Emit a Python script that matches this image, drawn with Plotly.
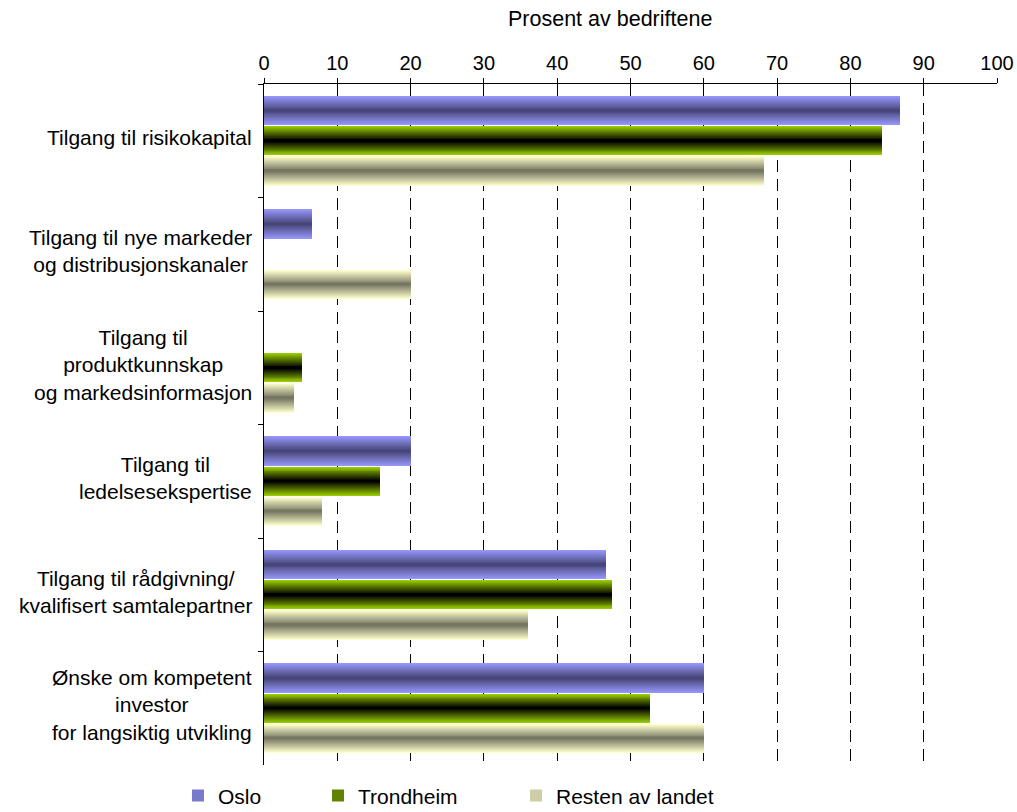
import plotly.graph_objects as go

# Categories (top to bottom) and the share of firms (%) per region
categories = [
    "Tilgang til risikokapital",
    "Tilgang til nye markeder<br>og distribusjonskanaler",
    "Tilgang til<br>produktkunnskap<br>og markedsinformasjon",
    "Tilgang til<br>ledelseseksportise".replace("eksportise", "ekspertise"),
    "Tilgang til rådgivning/<br>kvalifisert samtalepartner",
    "Ønske om kompetent<br>investor<br>for langsiktig utvikling",
]
series_names = ["Oslo", "Trondheim", "Resten av landet"]
oslo = [86.8, 6.5, 0, 20.0, 46.7, 60.0]
trondheim = [84.3, 0, 5.2, 15.8, 47.5, 52.7]
resten = [68.2, 20.0, 4.1, 7.9, 36.0, 60.0]
x_ticks = list(range(0, 101, 10))

# Edge and centre colours of each bar's shaded fill
edge_colors = [(150, 150, 250), (153, 204, 0), (255, 255, 204)]
center_colors = [(70, 70, 120), (0, 0, 0), (118, 118, 98)]

FONT = "Liberation Sans, Arial, sans-serif"
N_LAYERS = 15
LEGEND_LAYER = 5
BAR_PITCH = 0.266
BAR_WIDTH = 0.258


def mix(a, b, t):
    return "rgb({},{},{})".format(*[round(a[i] + (b[i] - a[i]) * t) for i in range(3)])


fig = go.Figure()
values = [oslo, trondheim, resten]
for j, (name, vals) in enumerate(zip(series_names, values)):
    center = (j - 1) * BAR_PITCH
    for k in range(N_LAYERS):
        w = BAR_WIDTH * (N_LAYERS - k) / N_LAYERS
        t = k / (N_LAYERS - 1)
        fig.add_trace(go.Bar(
            x=vals, y=categories, orientation="h",
            width=w, offset=center - w / 2,
            marker=dict(color=mix(edge_colors[j], center_colors[j], t), line=dict(width=0)),
            name=name, legendgroup=name,
            showlegend=(k == LEGEND_LAYER),
            legend="legend" if j == 0 else f"legend{j + 1}",
            hoverinfo="x+name",
        ))

# Category labels, centred lines right-aligned against the axis
for cat in categories:
    fig.add_annotation(
        x=0, xref="paper", xanchor="right", xshift=-10,
        y=cat, yref="y", yanchor="middle", yshift=3,
        text=cat, align="center", showarrow=False,
        font=dict(family=FONT, size=21, color="black"),
    )

fig.add_annotation(
    x=0.472, xref="paper", xanchor="center", text="Prosent av bedriftene", showarrow=False,
    y=1, yref="paper", yanchor="bottom", yshift=51,
    font=dict(family=FONT, size=21.5, color="black"),
)

legend_common = dict(
    orientation="h", yanchor="middle", xanchor="left",
    xref="container", yref="container", y=0.02,
    font=dict(family=FONT, size=21, color="black"),
    bgcolor="rgba(0,0,0,0)", borderwidth=0,
)

fig.update_layout(
    width=1017, height=812,
    margin=dict(l=264, r=20, t=84, b=47, autoexpand=False),
    paper_bgcolor="white", plot_bgcolor="white",
    barmode="overlay", bargap=0,
    font=dict(family=FONT, size=20, color="black"),
    legend=dict(x=0.175, **legend_common),
    legend2=dict(x=0.3127, **legend_common),
    legend3=dict(x=0.5074, **legend_common),
    xaxis=dict(
        side="top", range=[0, 100], tickvals=x_ticks,
        ticks="outside", ticklen=5, tickcolor="black", tickwidth=1,
        showline=True, linecolor="black", linewidth=1,
        showgrid=True, gridcolor="black", gridwidth=1, griddash="12px,7px",
        zeroline=False, automargin=False,
        tickfont=dict(family=FONT, size=20, color="black"),
    ),
    yaxis=dict(
        type="category", categoryorder="array", categoryarray=categories,
        range=[5.5, -0.5], tickson="boundaries",
        ticks="outside", ticklen=5, tickcolor="black",
        showline=True, linecolor="black", linewidth=1,
        showgrid=False, showticklabels=False, zeroline=False, automargin=False,
    ),
)

fig.write_html("out.html")
